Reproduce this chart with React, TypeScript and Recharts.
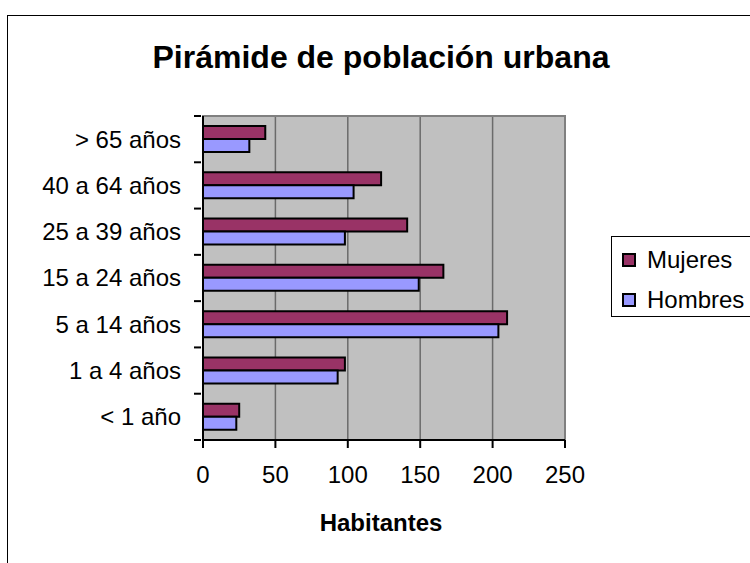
import * as React from 'react';
import {
  BarChart,
  Bar,
  XAxis,
  YAxis,
  CartesianGrid,
  ReferenceArea,
} from 'recharts';

const ageGroups = [
  '> 65 años',
  '40 a 64 años',
  '25 a 39 años',
  '15 a 24 años',
  '5 a 14 años',
  '1 a 4 años',
  '< 1 año',
];
const mujeres = [43, 123, 141, 166, 210, 98, 25];
const hombres = [32, 104, 98, 149, 204, 93, 23];
const xTicks = [0, 50, 100, 150, 200, 250];

const series = [
  { key: 'mujeres', name: 'Mujeres', color: '#993366' },
  { key: 'hombres', name: 'Hombres', color: '#9999FF' },
];

const FONT = '"Liberation Sans", Arial, sans-serif';

// ticks sit on the band edges, not at the label centre
function AgeTick(props: any) {
  const { x, y, payload, index } = props;
  const half = payload?.offset ?? 23;
  const axisX = x + 6;
  return (
    <g>
      <line x1={axisX - 7} x2={axisX} y1={y - half} y2={y - half} stroke="#000" strokeWidth={2} />
      {index === ageGroups.length - 1 && (
        <line x1={axisX - 7} x2={axisX} y1={y + half} y2={y + half} stroke="#000" strokeWidth={2} />
      )}
      <text x={x - 14} y={y} dy="0.35em" textAnchor="end" fontSize={24} fontFamily={FONT} fill="#000">
        {payload.value}
      </text>
    </g>
  );
}

export default function App() {
  const data = ageGroups.map((g, i) => ({ group: g, mujeres: mujeres[i], hombres: hombres[i] }));

  return (
    <div
      style={{
        position: 'absolute',
        left: 0,
        top: 0,
        width: 750,
        height: 563,
        overflow: 'hidden',
        background: '#fff',
        fontFamily: FONT,
      }}
    >
      <div
        style={{
          position: 'absolute',
          left: 7,
          top: 15,
          width: 780,
          height: 600,
          border: '1px solid #000',
        }}
      />
      <div
        style={{
          position: 'absolute',
          left: 0,
          width: 762,
          top: 38,
          textAlign: 'center',
          fontSize: 32,
          fontWeight: 'bold',
          lineHeight: '38px',
        }}
      >
        Pirámide de población urbana
      </div>

      <div style={{ position: 'absolute', left: 0, top: 0 }}>
        <BarChart
          width={750}
          height={563}
          data={data}
          layout="vertical"
          margin={{ top: 116, right: 185, bottom: 63, left: 3 }}
          barSize={13}
          barGap={0}
        >
          <CartesianGrid
            horizontal={false}
            vertical
            fill="#C0C0C0"
            fillOpacity={1}
            stroke="#6b6b6b"
            strokeWidth={1.5}
          />
          <ReferenceArea x1={0} x2={250} fill="none" stroke="#808080" strokeWidth={2} ifOverflow="visible" />
          <XAxis
            type="number"
            domain={[0, 250]}
            ticks={xTicks}
            height={60}
            axisLine={{ stroke: '#000', strokeWidth: 2 }}
            tickLine={{ stroke: '#000', strokeWidth: 2 }}
            tickSize={8}
            tickMargin={18}
            tick={{ fill: '#000', fontSize: 24, fontFamily: FONT }}
          />
          <YAxis
            type="category"
            dataKey="group"
            width={200}
            axisLine={{ stroke: '#000', strokeWidth: 2 }}
            tickLine={false}
            tick={<AgeTick />}
          />
          {series.map((s) => (
            <Bar
              key={s.key}
              dataKey={s.key}
              name={s.name}
              fill={s.color}
              stroke="#000"
              strokeWidth={2}
              isAnimationActive={false}
            />
          ))}
        </BarChart>
      </div>

      <div
        style={{
          position: 'absolute',
          left: 0,
          width: 762,
          top: 508,
          textAlign: 'center',
          fontSize: 24,
          fontWeight: 'bold',
          lineHeight: '30px',
        }}
      >
        Habitantes
      </div>

      <div
        style={{
          position: 'absolute',
          left: 611,
          top: 236,
          width: 160,
          height: 81,
          border: '1px solid #000',
          boxSizing: 'border-box',
        }}
      >
        {series.map((s, i) => (
          <div
            key={s.key}
            style={{
              position: 'absolute',
              left: 10,
              top: 8 + i * 40,
              height: 30,
              display: 'flex',
              alignItems: 'center',
              fontSize: 24,
            }}
          >
            <span
              style={{
                display: 'inline-block',
                width: 10,
                height: 10,
                background: s.color,
                border: '2px solid #000',
                marginRight: 11,
              }}
            />
            {s.name}
          </div>
        ))}
      </div>
    </div>
  );
}
